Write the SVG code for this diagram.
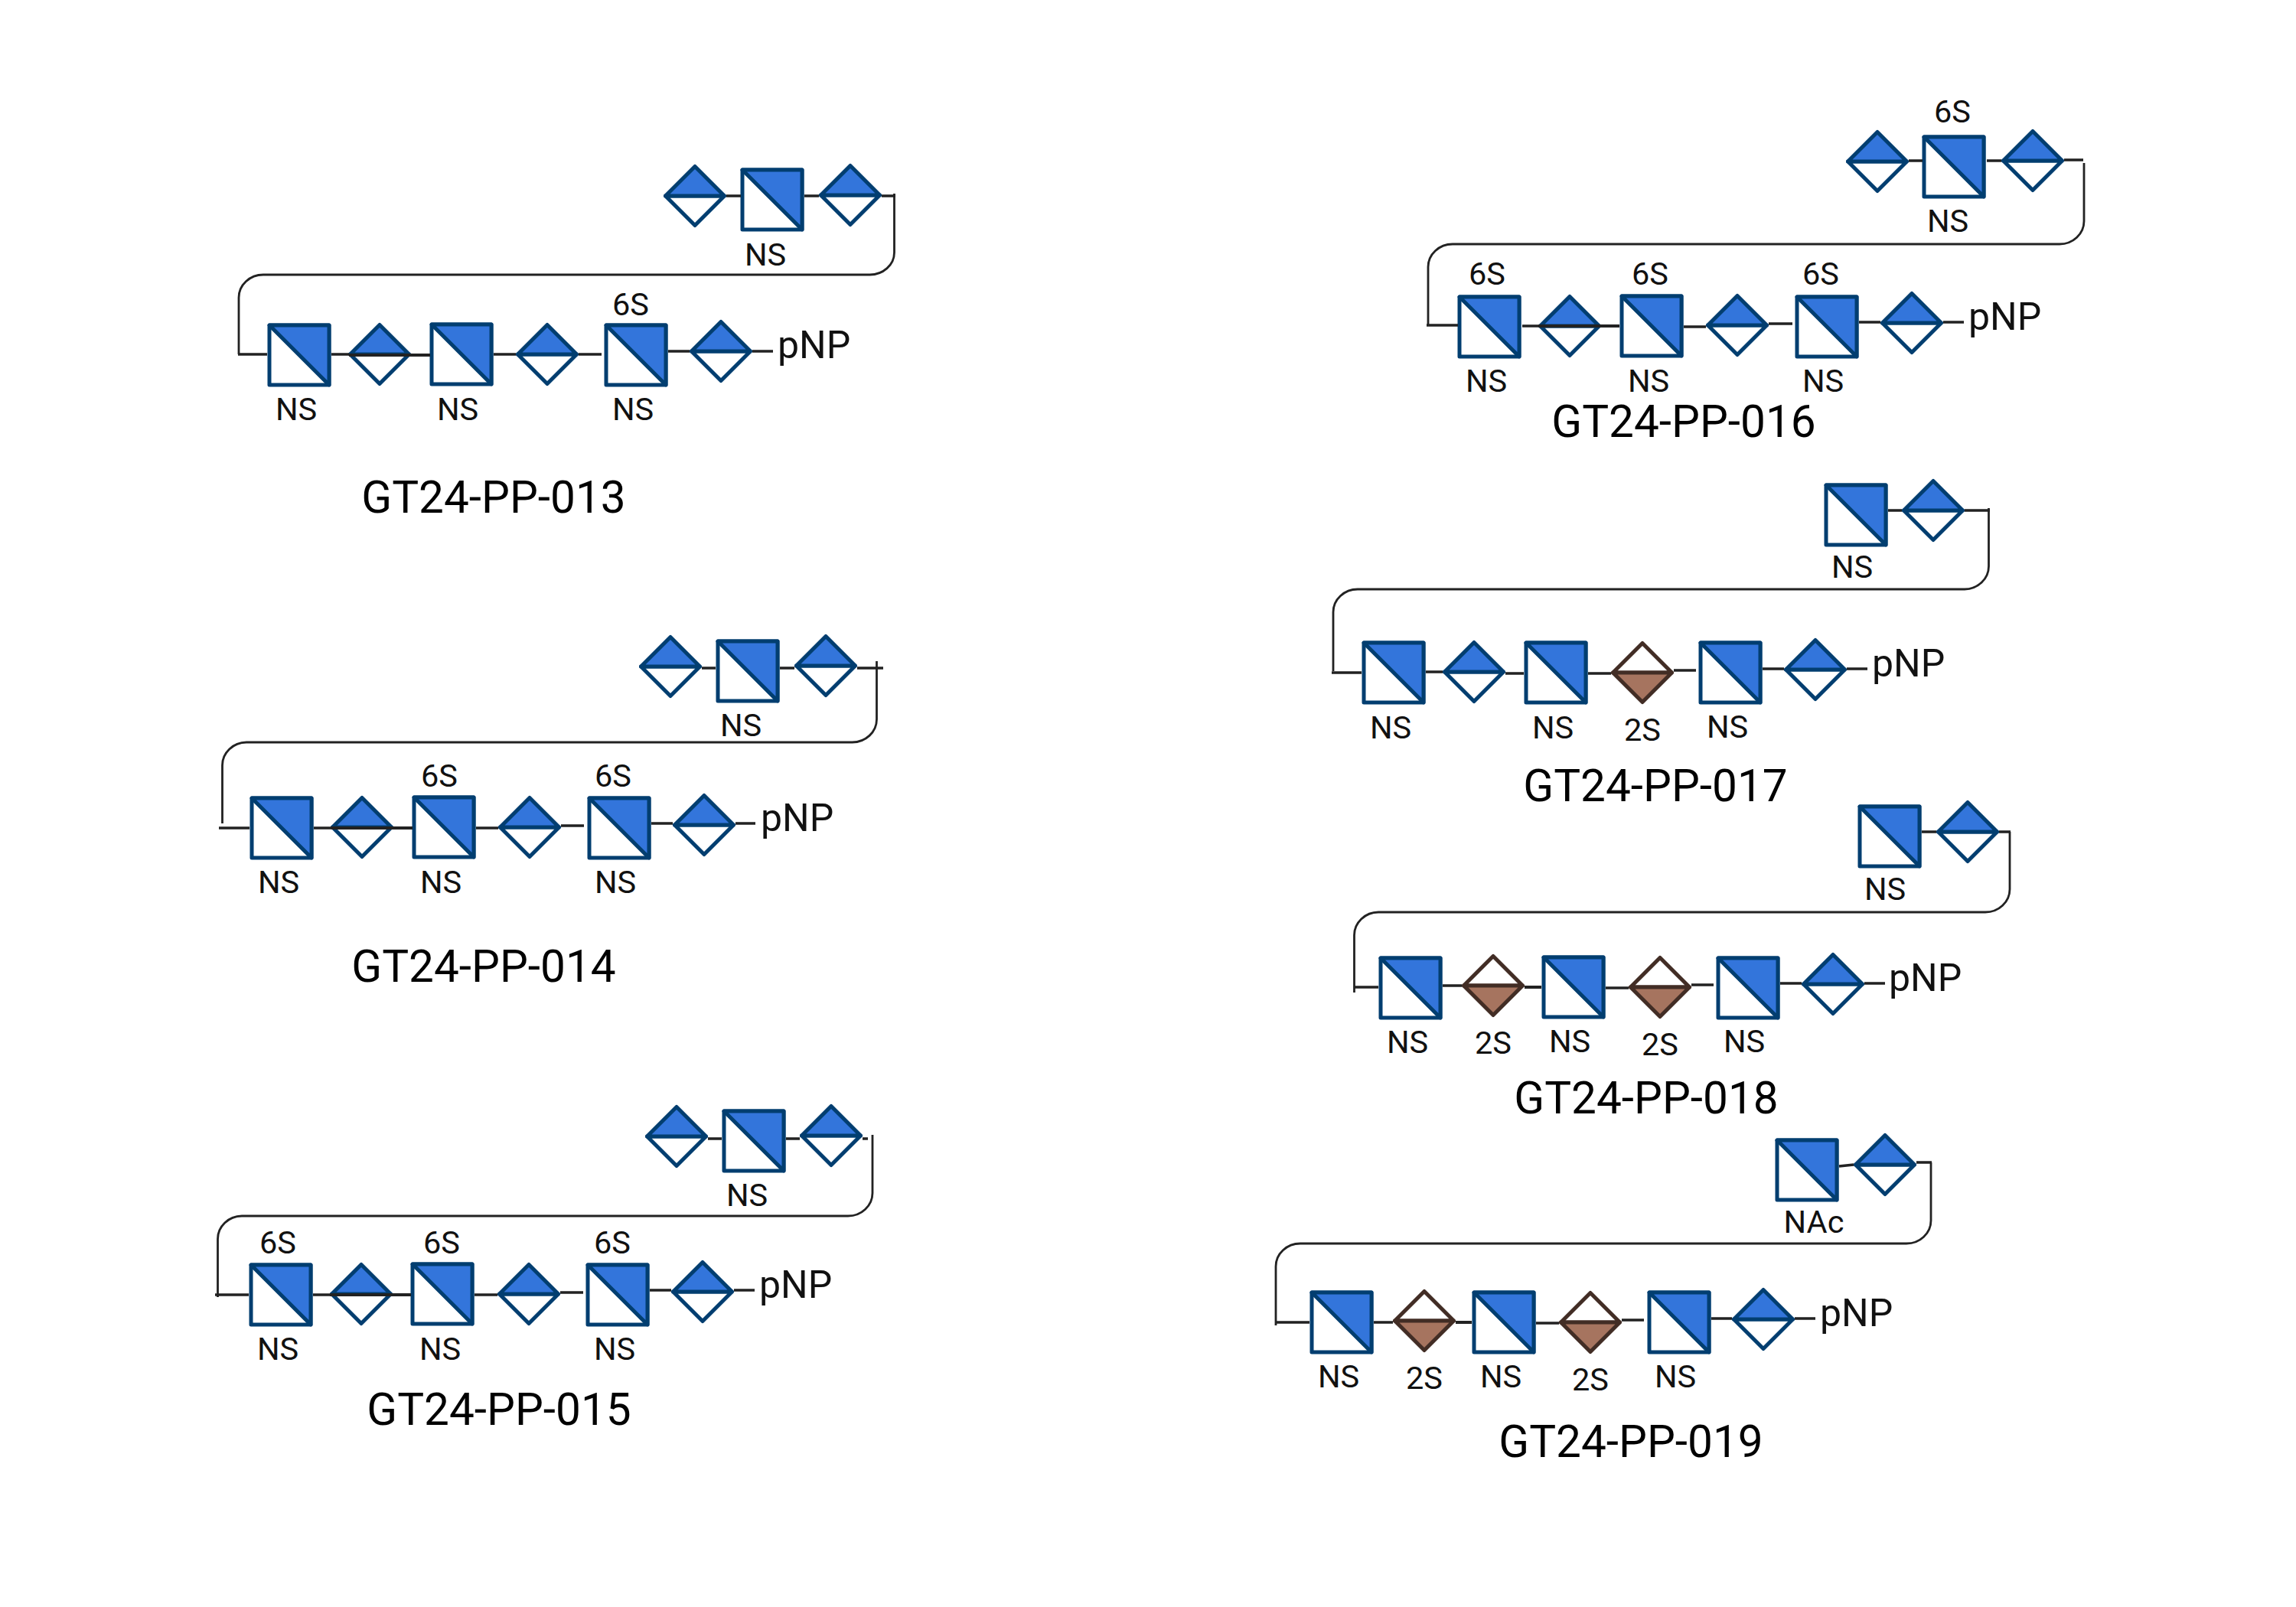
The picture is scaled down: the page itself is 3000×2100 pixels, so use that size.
<svg xmlns="http://www.w3.org/2000/svg" width="3000" height="2100" viewBox="0 0 3000 2100">
<style>
text{font-family:Roboto,"Liberation Sans",sans-serif;fill:#111}
.l{font-size:41.500px;text-anchor:middle;transform:translateY(1px)}
.p{font-size:50px;transform:translateY(1px)}
.t{font-size:58.500px;text-anchor:middle;fill:#000}
.c{fill:none;stroke:#222;stroke-width:3.600}
.k{fill:none;stroke:#222;stroke-width:2.800}
.h{fill:none;stroke:#222;stroke-width:4}
.o{stroke:#023e70;stroke-width:5;stroke-linejoin:round}
.b{stroke:#422d25;stroke-width:5;stroke-linejoin:round}
</style>
<defs>
<g id="sq"><rect class="o" x="-39" y="-39" width="78" height="78" fill="#fff"/><path class="o" d="M-39-39H39V39Z" fill="#3375db"/></g>
<g id="di"><path class="o" d="M-38.500 0L0 38.500L38.500 0Z" fill="#fff"/><path class="o" d="M-38.500 0L0-38.500L38.500 0Z" fill="#3375db"/></g>
<g id="br"><path class="b" d="M-38.500 0L0-38.500L38.500 0Z" fill="#fff"/><path class="b" d="M-38.500 0L0 38.500L38.500 0Z" fill="#a6745f"/></g>
</defs>

<g id="nodes">
<g id="p013-d1" transform="translate(908 256)"><use href="#di"/></g>
<g id="p013-s1" transform="translate(1009 261)"><use href="#sq"/></g>
<g id="p013-d2" transform="translate(1111 255)"><use href="#di"/></g>
<g id="p013-s2" transform="translate(391 464)"><use href="#sq"/></g>
<g id="p013-d3" transform="translate(496 463)"><use href="#di"/></g>
<g id="p013-s3" transform="translate(603 463)"><use href="#sq"/></g>
<g id="p013-d4" transform="translate(715 463)"><use href="#di"/></g>
<g id="p013-s4" transform="translate(831 464)"><use href="#sq"/></g>
<g id="p013-d5" transform="translate(942 459)"><use href="#di"/></g>

<g id="p014-d1" transform="translate(876 871)"><use href="#di"/></g>
<g id="p014-s1" transform="translate(977 877)"><use href="#sq"/></g>
<g id="p014-d2" transform="translate(1079 870)"><use href="#di"/></g>
<g id="p014-s2" transform="translate(368 1082)"><use href="#sq"/></g>
<g id="p014-d3" transform="translate(473 1081)"><use href="#di"/></g>
<g id="p014-s3" transform="translate(580 1081)"><use href="#sq"/></g>
<g id="p014-d4" transform="translate(692 1081)"><use href="#di"/></g>
<g id="p014-s4" transform="translate(809 1082)"><use href="#sq"/></g>
<g id="p014-d5" transform="translate(920 1078)"><use href="#di"/></g>

<g id="p015-d1" transform="translate(884 1485)"><use href="#di"/></g>
<g id="p015-s1" transform="translate(985 1491)"><use href="#sq"/></g>
<g id="p015-d2" transform="translate(1086 1484)"><use href="#di"/></g>
<g id="p015-s2" transform="translate(367 1692)"><use href="#sq"/></g>
<g id="p015-d3" transform="translate(472 1691)"><use href="#di"/></g>
<g id="p015-s3" transform="translate(578 1691)"><use href="#sq"/></g>
<g id="p015-d4" transform="translate(691 1691)"><use href="#di"/></g>
<g id="p015-s4" transform="translate(807 1692)"><use href="#sq"/></g>
<g id="p015-d5" transform="translate(918 1688)"><use href="#di"/></g>

<g id="p016-d1" transform="translate(2453 211)"><use href="#di"/></g>
<g id="p016-s1" transform="translate(2553 218)"><use href="#sq"/></g>
<g id="p016-d2" transform="translate(2656 210)"><use href="#di"/></g>
<g id="p016-s2" transform="translate(1946 427)"><use href="#sq"/></g>
<g id="p016-d3" transform="translate(2051 426)"><use href="#di"/></g>
<g id="p016-s3" transform="translate(2158 426)"><use href="#sq"/></g>
<g id="p016-d4" transform="translate(2270 425)"><use href="#di"/></g>
<g id="p016-s4" transform="translate(2387 427)"><use href="#sq"/></g>
<g id="p016-d5" transform="translate(2498 422)"><use href="#di"/></g>

<g id="p017-s1" transform="translate(2425 673)"><use href="#sq"/></g>
<g id="p017-d1" transform="translate(2526 667)"><use href="#di"/></g>
<g id="p017-s2" transform="translate(1821 879)"><use href="#sq"/></g>
<g id="p017-d2" transform="translate(1926 878)"><use href="#di"/></g>
<g id="p017-s3" transform="translate(2033 879)"><use href="#sq"/></g>
<g id="p017-b1" transform="translate(2146 879)"><use href="#br"/></g>
<g id="p017-s4" transform="translate(2261 879)"><use href="#sq"/></g>
<g id="p017-d3" transform="translate(2372 875)"><use href="#di"/></g>

<g id="p018-s1" transform="translate(2469 1093)"><use href="#sq"/></g>
<g id="p018-d1" transform="translate(2571 1087)"><use href="#di"/></g>
<g id="p018-s2" transform="translate(1843 1291)"><use href="#sq"/></g>
<g id="p018-b1" transform="translate(1951 1288)"><use href="#br"/></g>
<g id="p018-s3" transform="translate(2056 1290)"><use href="#sq"/></g>
<g id="p018-b2" transform="translate(2169 1290)"><use href="#br"/></g>
<g id="p018-s4" transform="translate(2284 1291)"><use href="#sq"/></g>
<g id="p018-d2" transform="translate(2395 1286)"><use href="#di"/></g>

<g id="p019-s1" transform="translate(2361 1529)"><use href="#sq"/></g>
<g id="p019-d1" transform="translate(2463 1522)"><use href="#di"/></g>
<g id="p019-s2" transform="translate(1753 1728)"><use href="#sq"/></g>
<g id="p019-b1" transform="translate(1861 1726)"><use href="#br"/></g>
<g id="p019-s3" transform="translate(1965 1728)"><use href="#sq"/></g>
<g id="p019-b2" transform="translate(2078 1728)"><use href="#br"/></g>
<g id="p019-s4" transform="translate(2194 1728)"><use href="#sq"/></g>
<g id="p019-d2" transform="translate(2304 1724)"><use href="#di"/></g>
</g>

<g id="connectors">
<!-- 013 -->
<path class="c" d="M949 256H968M1051 256H1070M1152 256H1170"/>
<path class="k" d="M1168.500 253V330A32 29 0 0 1 1136 359H344A32 30 0 0 0 312 389V463"/>
<path class="c" d="M311 463H349M433 463H456M645 463H674M756 463H786M873 459H901M983 459H1010"/>
<path class="h" d="M456 464H562"/>
<!-- 014 -->
<path class="c" d="M917 873H935M1019 873H1038M1120 873H1154"/>
<path class="k" d="M1145.500 864V940A32 30 0 0 1 1113 970H322A32 30 0 0 0 290.500 1000V1076"/>
<path class="c" d="M286 1082H326M410 1082H433M622 1082H651M733 1079H763M851 1076H879M961 1076H987"/>
<path class="h" d="M433 1082H539"/>
<!-- 015 -->
<path class="c" d="M925 1488H943M1027 1488H1045M1127 1488H1134"/>
<path class="k" d="M1140 1483V1559A32 30 0 0 1 1108 1589H316A32 30 0 0 0 284.500 1619V1695"/>
<path class="c" d="M281 1692H325M409 1692H431M620 1692H650M732 1689H762M849 1686H877M959 1686H986"/>
<path class="h" d="M431 1692H537"/>
<!-- 016 -->
<path class="c" d="M2494 210H2512M2596 210H2615M2697 209H2722"/>
<path class="k" d="M2723 213V289A32 30 0 0 1 2691 319H1898A32 30 0 0 0 1866 349V425"/>
<path class="c" d="M1864 425H1905M1989 426H2010M2200 427H2229M2311 423H2342M2429 421H2457M2539 421H2566"/>
<path class="h" d="M2010 426H2116"/>
<!-- 017 -->
<path class="c" d="M2467 667H2485M2567 667H2600"/>
<path class="k" d="M2598.500 664V740A32 30 0 0 1 2567 770H1774A32 30 0 0 0 1742 800V877"/>
<path class="c" d="M1740 879H1779M1863 878H1885M1967 880H1991M2075 880H2105M2187 876H2216M2303 874H2331M2413 874H2440"/>
<!-- 018 -->
<path class="c" d="M2511 1087H2530M2612 1087H2627"/>
<path class="k" d="M2626 1087V1162A32 30 0 0 1 2594 1192H1801A32 30 0 0 0 1769.500 1222V1297"/>
<path class="c" d="M1769 1290H1801M1885 1288H1910M2098 1291H2128M2210 1287H2239M2326 1285H2354M2436 1285H2463"/>
<path class="h" d="M1992 1290H2014"/>
<!-- 019 -->
<path class="c" d="M2403 1524L2422 1522M2504 1519H2524"/>
<path class="k" d="M2523 1519V1595A32 30 0 0 1 2491 1625H1699A32 30 0 0 0 1667 1655V1732"/>
<path class="c" d="M1667 1728H1711M1795 1728H1820M2007 1729H2037M2119 1725H2148M2236 1723H2263M2345 1723H2372"/>
<path class="h" d="M1902 1728H1923"/>
</g>

<g id="labels">
<text class="l" x="1000" y="346">NS</text><text class="l" x="387" y="548">NS</text><text class="l" x="598" y="548">NS</text><text class="l" x="827" y="548">NS</text><text class="l" x="824" y="411">6S</text><text class="p" x="1016" y="467">pNP</text><text class="t" x="645" y="670">GT24-PP-013</text>

<text class="l" x="968" y="961">NS</text><text class="l" x="364" y="1166">NS</text><text class="l" x="576" y="1166">NS</text><text class="l" x="804" y="1166">NS</text><text class="l" x="574" y="1027">6S</text><text class="l" x="801" y="1027">6S</text><text class="p" x="994" y="1085">pNP</text><text class="t" x="632" y="1283">GT24-PP-014</text>

<text class="l" x="976" y="1575">NS</text><text class="l" x="363" y="1776">NS</text><text class="l" x="575" y="1776">NS</text><text class="l" x="803" y="1776">NS</text><text class="l" x="363" y="1637">6S</text><text class="l" x="577" y="1637">6S</text><text class="l" x="800" y="1637">6S</text><text class="p" x="992" y="1695">pNP</text><text class="t" x="652" y="1862">GT24-PP-015</text>

<text class="l" x="2551" y="159">6S</text><text class="l" x="2545" y="302">NS</text><text class="l" x="1943" y="371">6S</text><text class="l" x="2156" y="371">6S</text><text class="l" x="2379" y="371">6S</text><text class="l" x="1942" y="511">NS</text><text class="l" x="2154" y="511">NS</text><text class="l" x="2382" y="511">NS</text><text class="p" x="2572" y="430">pNP</text><text class="t" x="2200" y="571">GT24-PP-016</text>

<text class="l" x="2420" y="754">NS</text><text class="l" x="1817" y="964">NS</text><text class="l" x="2029" y="964">NS</text><text class="l" x="2146" y="967">2S</text><text class="l" x="2257" y="963">NS</text><text class="p" x="2446" y="883">pNP</text><text class="t" x="2163" y="1047">GT24-PP-017</text>

<text class="l" x="2463" y="1175">NS</text><text class="l" x="1839" y="1375">NS</text><text class="l" x="1951" y="1376">2S</text><text class="l" x="2051" y="1374">NS</text><text class="l" x="2169" y="1378">2S</text><text class="l" x="2279" y="1374">NS</text><text class="p" x="2468" y="1294">pNP</text><text class="t" x="2151" y="1455">GT24-PP-018</text>

<text class="l" x="2370" y="1610">NAc</text><text class="l" x="1749" y="1812">NS</text><text class="l" x="1861" y="1814">2S</text><text class="l" x="1961" y="1812">NS</text><text class="l" x="2078" y="1816">2S</text><text class="l" x="2189" y="1812">NS</text><text class="p" x="2378" y="1732">pNP</text><text class="t" x="2131" y="1904">GT24-PP-019</text>
</g>
</svg>
